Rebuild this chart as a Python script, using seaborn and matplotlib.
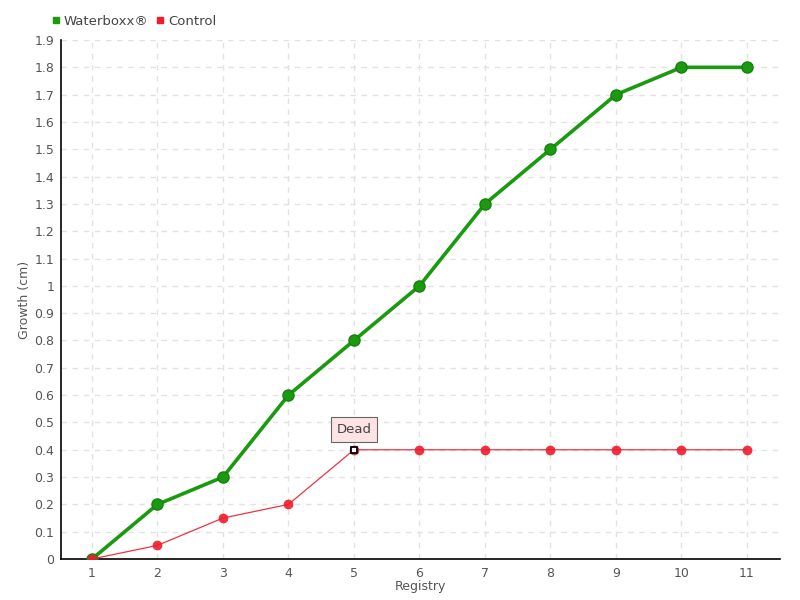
import matplotlib
matplotlib.use('Agg')
import matplotlib.pyplot as plt
import seaborn as sns
import pandas as pd
from matplotlib.lines import Line2D

# data
registry = [1, 2, 3, 4, 5, 6, 7, 8, 9, 10, 11]
waterboxx = [0, 0.2, 0.3, 0.6, 0.8, 1.0, 1.3, 1.5, 1.7, 1.8, 1.8]
control = [0, 0.05, 0.15, 0.2, 0.4, 0.4, 0.4, 0.4, 0.4, 0.4, 0.4]
y_ticks = [0, 0.1, 0.2, 0.3, 0.4, 0.5, 0.6, 0.7, 0.8, 0.9, 1.0,
           1.1, 1.2, 1.3, 1.4, 1.5, 1.6, 1.7, 1.8, 1.9]

df_w = pd.DataFrame({'Registry': registry, 'Growth': waterboxx})
df_c = pd.DataFrame({'Registry': registry, 'Growth': control})

sns.set_style('white')
plt.rcParams['font.family'] = ['DejaVu Sans']

fig = plt.figure(figsize=(8, 6), dpi=100)
ax = fig.add_axes([0.07625, 0.0683, 0.89875, 0.865])

green = '#1a9a0e'
red = '#ee1c2e'

sns.lineplot(data=df_w, x='Registry', y='Growth', ax=ax, color=green, lw=2.6,
             marker='o', markersize=8, markeredgecolor='#17800f', markeredgewidth=1,
             zorder=3)
sns.lineplot(data=df_c, x='Registry', y='Growth', ax=ax, color=red, lw=0.9,
             alpha=0.9, marker='o', markersize=6.5, markeredgecolor=red,
             markeredgewidth=0.5, zorder=4)

# dead point
ax.plot(5, 0.4, marker='s', markersize=5, markerfacecolor='white',
        markeredgecolor='black', markeredgewidth=1.3, zorder=6)
ax.annotate('Dead', xy=(5, 0.4), xytext=(5, 0.475), ha='center', va='center',
            fontsize=9.5, color='#444444', zorder=7,
            bbox=dict(boxstyle='square,pad=0.45', fc='#fde3e3', ec='#666666', lw=0.8))

ax.set_xlim(0.527, 11.504)
ax.set_ylim(0, 1.9)
ax.set_xticks(registry)
ax.set_yticks(y_ticks)
ax.set_yticklabels([f'{v:g}' for v in y_ticks])

ax.grid(True, color='#e2e2e2', linestyle=(0, (4, 4)), lw=1)
for s in ['top', 'right']:
    ax.spines[s].set_visible(False)
for s in ['left', 'bottom']:
    ax.spines[s].set_color('black')
    ax.spines[s].set_linewidth(1.2)

ax.tick_params(axis='y', direction='inout', length=6, width=1, colors='black',
               labelcolor='#555555', labelsize=9, pad=2)
ax.tick_params(axis='x', direction='out', length=4, width=1, colors='black',
               labelcolor='#555555', labelsize=9, pad=2)
ax.set_xlabel('Registry', fontsize=9, color='#555555', labelpad=0)
ax.set_ylabel('Growth (cm)', fontsize=9, color='#555555', labelpad=2)

# legend
handles = [Line2D([], [], ls='none', marker='s', markersize=5, color=green),
           Line2D([], [], ls='none', marker='s', markersize=5, color=red)]
fig.legend(handles, ['Waterboxx®', 'Control'], loc='upper left',
           bbox_to_anchor=(0.05, 0.995), ncol=2, frameon=False, fontsize=9.5,
           handlelength=0.6, handletextpad=0.3, columnspacing=0.6,
           labelcolor='#444444')

fig.savefig('out.png', dpi=100)
